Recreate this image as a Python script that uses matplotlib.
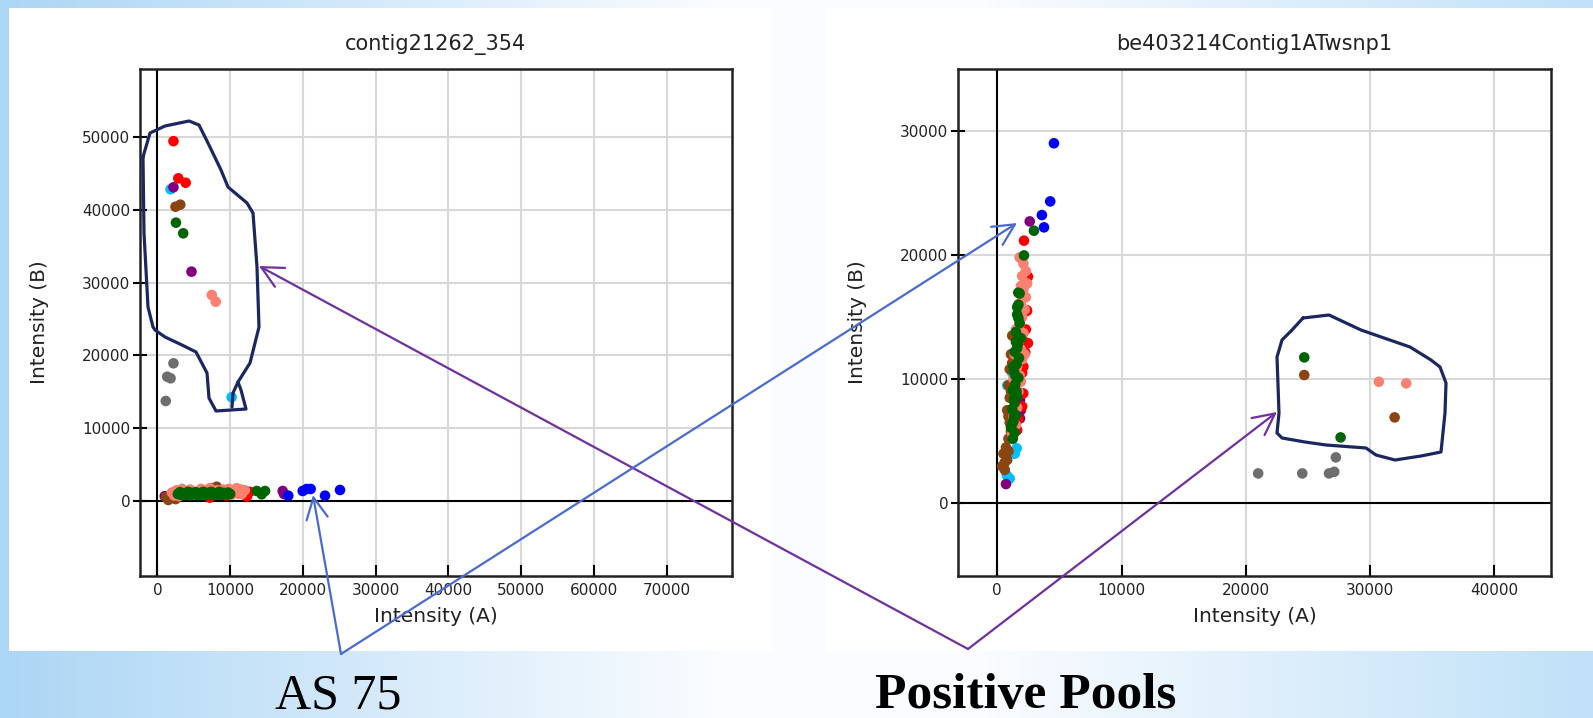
import numpy as np
import matplotlib
matplotlib.use("Agg")
import matplotlib.pyplot as plt
from matplotlib.lines import Line2D
from matplotlib.patches import Rectangle, FancyArrowPatch

W, H = 1593, 718

# ── colours ───────────────────────────────────────────────────────────────────
RED = "#ff0000"
SALMON = "#fa8072"
GREEN = "#006400"
BROWN = "#8b4513"
PURPLE = "#800080"
GRAY = "#6e6e6e"
BLUE = "#0000ff"
SKY = "#00bfff"
NAVY = "#1c2761"
ARROW_PURPLE = "#7030a0"
ARROW_BLUE = "#4a6bd0"

# ── data: contig21262_354 (left) ──────────────────────────────────────────────
L_TITLE = "contig21262_354"
L_XTICKS = [0, 10000, 20000, 30000, 40000, 50000, 60000, 70000]
L_YTICKS = [0, 10000, 20000, 30000, 40000, 50000]

L_GRAY = [(2200, 18930), (1340, 17090), (1800, 16870), (1140, 13760)]
L_SKY = [(1800, 42800), (10200, 14270), (2800, 1400), (2200, 600), (3200, 900)]
L_PURPLE = [(2200, 43070), (4680, 31500), (1000, 700), (17220, 1410), (17400, 1000)]
L_BROWN = [(2480, 40410), (3140, 40690), (1180, 590), (1490, 180), (1700, 400),
           (8140, 2000), (2500, 300), (7500, 1800)]
L_RED = [(2200, 49400), (2870, 44300), (3880, 43700), (7200, 500), (9500, 800),
         (11100, 1100), (12300, 650), (12700, 1300), (10600, 1500), (8600, 1300)]
L_SALMON = [(7470, 28300), (8010, 27380), (2000, 1200), (2600, 1500), (3400, 1700),
            (4500, 1600), (6000, 1700), (7200, 1800), (8200, 1500), (9000, 1600),
            (9800, 1700), (10500, 1500), (11000, 1200), (11600, 1000), (12000, 1500),
            (10200, 900), (9000, 1200), (3000, 700), (5000, 1300), (2300, 800),
            (10900, 1800), (11500, 1600)]
L_GREEN = [(2540, 38220), (3540, 36760), (2800, 1000), (3100, 1250), (3300, 850),
           (3650, 1100), (3900, 900), (4200, 1300), (4450, 800), (4700, 1150),
           (5000, 950), (5250, 1250), (5500, 850), (5800, 1100), (6050, 900),
           (6300, 1300), (6600, 800), (6900, 1150), (7150, 950), (7400, 1300),
           (7700, 850), (8000, 1100), (8250, 900), (8500, 1300), (8800, 850),
           (9100, 1150), (9400, 950), (9700, 1200), (10000, 1000), (4000, 1100),
           (6500, 1000), (8600, 1000), (13640, 1410), (14790, 1410), (14330, 960)]
L_BLUE = [(17990, 770), (19970, 1410), (20520, 1690), (21070, 1690), (23040, 770),
          (25100, 1550)]

# ── data: be403214Contig1ATwsnp1 (right) ──────────────────────────────────────
R_TITLE = "be403214Contig1ATwsnp1"
R_XTICKS = [0, 10000, 20000, 30000, 40000]
R_YTICKS = [0, 10000, 20000, 30000]

R_GRAY = [(27240, 3700), (20990, 2410), (24540, 2410), (26690, 2410), (27110, 2540)]
R_SKY = [(760, 2280), (1560, 4430), (1000, 2000), (1200, 10500), (1700, 10700),
         (800, 9500), (1400, 4000)]
R_PURPLE = [(2610, 22700), (1830, 8320), (1830, 6840), (700, 1550), (1900, 7500)]
R_BROWN = [(1100, 12000), (1000, 10800), (1200, 11300), (900, 9500), (1000, 8500),
           (800, 7500), (1000, 6500), (900, 5200), (700, 4500), (500, 4000),
           (800, 3500), (400, 3000), (600, 2700), (900, 4200), (1500, 10000),
           (1200, 13500), (1100, 9000), (900, 7000), (1100, 5800), (600, 3300),
           (24700, 10330), (31970, 6920)]
R_RED = [(2150, 21150), (2470, 18250), (2360, 15560), (2470, 12900), (2250, 12150),
         (2090, 8850), (2300, 18000), (2400, 15500), (2300, 14000), (2200, 13000),
         (2100, 11000), (2000, 10500), (2000, 7800), (1700, 6800), (1600, 5900)]
R_SALMON = [(1800, 19800), (2100, 19300), (2300, 18700), (2000, 18300), (2400, 17700),
            (2100, 17200), (2300, 16600), (1900, 16200), (2200, 15600), (2000, 15000),
            (1800, 14400), (2100, 13700), (1700, 13000), (1900, 12400), (2000, 11600),
            (1600, 11000), (1800, 10300), (1500, 9700), (1700, 9000), (1400, 8400),
            (1600, 7700), (1300, 7000), (1500, 6300), (1200, 5600), (1900, 9800),
            (2200, 12000), (1500, 14000), (1400, 12000), (1300, 10000), (1900, 17500),
            (30700, 9790), (32900, 9660)]
R_GREEN = [(2950, 21950), (2150, 19960), (1690, 16960), (1800, 16900), (1600, 15800),
           (1700, 16000), (1600, 15200), (1800, 14500), (1500, 13800), (1900, 13300),
           (1650, 12800), (1400, 12200), (1750, 11700), (1550, 11200), (1350, 10600),
           (1700, 10100), (1450, 9600), (1250, 9100), (1600, 8600), (1400, 8100),
           (1200, 7600), (1500, 7100), (1300, 6600), (1100, 6100), (1400, 5700),
           (1250, 5200), (1500, 13000), (1300, 11000), (1550, 9000), (1350, 7000),
           (1700, 14900), (1600, 12500), (1450, 10300), (1350, 8400), (1200, 6400),
           (24700, 11750), (27620, 5310)]
R_BLUE = [(4560, 28990), (4260, 24310), (3590, 23210), (3760, 22220)]

# hand-drawn outlines and arrows (slide pixel coordinates)
LEFT_LOOP = [(143, 157), (150, 133), (165, 126), (189, 121), (199, 125), (208, 143),
             (221, 170), (228, 187), (247, 203), (253, 213), (257, 267), (259, 327),
             (257, 335), (250, 363), (238, 382), (241, 390), (246, 409), (216, 411),
             (209, 398), (207, 373), (196, 352), (182, 345), (165, 337), (155, 330),
             (153, 327), (148, 307), (144, 233), (143, 157)]
LEFT_TAIL = [(238, 382), (233, 393), (232, 407)]
RIGHT_LOOP = [(1303, 318), (1329, 315), (1361, 330), (1410, 347), (1431, 360),
              (1440, 367), (1446, 383), (1445, 413), (1441, 452), (1421, 456),
              (1395, 460), (1376, 455), (1366, 448), (1326, 445), (1305, 442),
              (1282, 438), (1277, 433), (1279, 413), (1277, 357), (1282, 340),
              (1292, 330), (1303, 318)]
ARROWS = [((968, 649), (259, 266), ARROW_PURPLE),
          ((968, 649), (1277, 412), ARROW_PURPLE),
          ((341, 654), (313, 495), ARROW_BLUE),
          ((341, 654), (1017, 223), ARROW_BLUE)]


def fpx(x, y):
    return (x / W, 1 - y / H)


def frect(x0, y0, x1, y1):
    return [x0 / W, 1 - y1 / H, (x1 - x0) / W, (y1 - y0) / H]


def draw_panel(ax, title, series, xlim, ylim, xticks, yticks):
    ax.set_facecolor("white")
    ax.set_axisbelow(True)
    ax.grid(color="#d8d8d8", lw=1.5)
    ax.axvline(0, color="black", lw=1.5, zorder=1)
    ax.axhline(0, color="black", lw=1.5, zorder=1)
    for pts, col in series:
        xs, ys = zip(*pts)
        ax.scatter(xs, ys, s=58, color=col, edgecolors="none", zorder=3)
    ax.set_xlim(*xlim)
    ax.set_ylim(*ylim)
    ax.set_xticks(xticks)
    ax.set_yticks(yticks)
    ax.tick_params(axis="x", direction="in", length=8, width=1.5, pad=5,
                   labelsize=11, labelcolor="#222222")
    ax.tick_params(axis="y", direction="inout", length=10, width=1.5, pad=2,
                   labelsize=11, labelcolor="#222222")
    for sp in ax.spines.values():
        sp.set_linewidth(1.8)
        sp.set_color("#222222")
    ax.set_title(title, fontsize=15, pad=14, color="#222222")
    ax.set_xlabel("Intensity (A)", fontsize=14.5, color="#222222")
    ax.set_ylabel("Intensity (B)", fontsize=14.5, color="#222222")
    ax.xaxis.set_label_coords(0.5, -0.061)
    ax.yaxis.set_label_coords(-0.154, 0.5)


fig = plt.figure(figsize=(W / 100, H / 100), dpi=100)

# slide background gradient
bg = fig.add_axes([0, 0, 1, 1], zorder=-10)
stops = np.array([0.0, 0.45, 0.62, 1.0])
cols = np.array([[172, 214, 245], [250, 252, 255], [250, 252, 255], [192, 225, 248]]) / 255
gx = np.linspace(0, 1, 400)
grad = np.stack([np.interp(gx, stops, cols[:, c]) for c in range(3)], axis=-1)
bg.imshow(grad[None, :, :], extent=[0, 1, 0, 1], aspect="auto")
bg.set_axis_off()
bg.add_patch(Rectangle((9 / W, 1 - 651 / H), (772 - 9) / W, (651 - 8) / H,
                       transform=bg.transAxes, color="white", lw=0))
bg.add_patch(Rectangle((827 / W, 1 - 651 / H), (W - 827) / W, (651 - 8) / H,
                       transform=bg.transAxes, color="white", lw=0))

ax1 = fig.add_axes(frect(140, 69, 732, 576))
draw_panel(ax1, L_TITLE,
           [(L_SKY, SKY), (L_PURPLE, PURPLE), (L_BROWN, BROWN), (L_RED, RED),
            (L_SALMON, SALMON), (L_GREEN, GREEN), (L_BLUE, BLUE), (L_GRAY, GRAY)],
           (-2400, 79000), (-10250, 59300), L_XTICKS, L_YTICKS)

ax2 = fig.add_axes(frect(958, 69, 1551, 576))
draw_panel(ax2, R_TITLE,
           [(R_SKY, SKY), (R_PURPLE, PURPLE), (R_BROWN, BROWN), (R_RED, RED),
            (R_SALMON, SALMON), (R_GREEN, GREEN), (R_BLUE, BLUE), (R_GRAY, GRAY)],
           (-3160, 44550), (-5850, 34970), R_XTICKS, R_YTICKS)

# hand-drawn loops
for path in (LEFT_LOOP, LEFT_TAIL, RIGHT_LOOP):
    xs, ys = zip(*[fpx(x, y) for x, y in path])
    fig.add_artist(Line2D(xs, ys, color=NAVY, lw=2.3, transform=fig.transFigure,
                          solid_joinstyle="round", solid_capstyle="round"))

# arrows
for start, end, col in ARROWS:
    fig.add_artist(FancyArrowPatch(fpx(*start), fpx(*end), transform=fig.transFigure,
                                   arrowstyle="->,head_length=0.7,head_width=0.35",
                                   mutation_scale=22, color=col, lw=1.6,
                                   shrinkA=0, shrinkB=0))

fig.text(338 / W, 1 - 696 / H, "AS 75", ha="center", va="center",
         family="Liberation Serif", fontsize=36, color="black")
fig.text(1026 / W, 1 - 696 / H, "Positive Pools", ha="center", va="center",
         family="Liberation Serif", fontsize=37, fontweight="bold", color="black")

fig.savefig("out.png", dpi=100)
